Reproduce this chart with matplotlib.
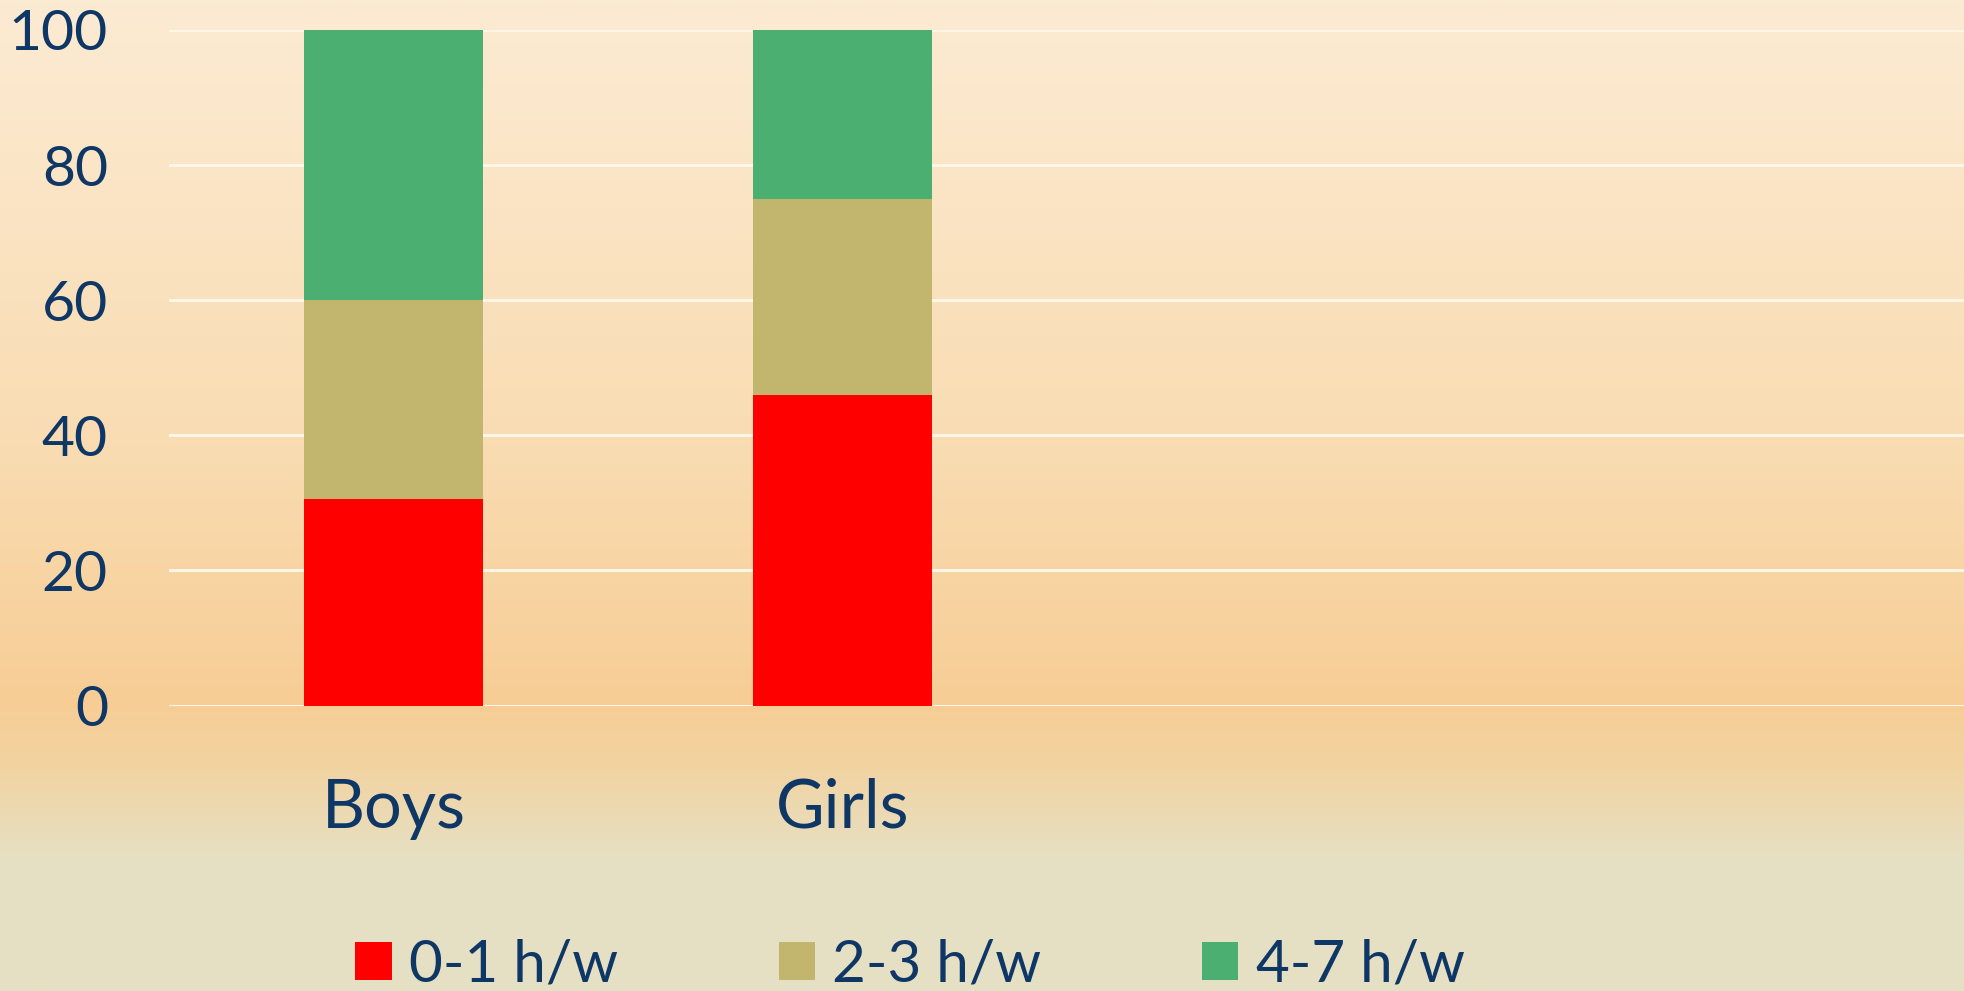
import matplotlib
matplotlib.use("Agg")
import matplotlib.pyplot as plt
import numpy as np
from matplotlib.colors import LinearSegmentedColormap

plt.rcParams['font.family'] = ['Lato', 'DejaVu Sans']

categories = ["Boys", "Girls", "", ""]
series_names = ["0-1 h/w", "2-3 h/w", "4-7 h/w"]
s01 = [30.6, 46, 0, 0]
s23 = [29.4, 29, 0, 0]
s47 = [40, 25, 0, 0]
colors = ["#FF0000", "#C2B56D", "#4CAF72"]
yticks = [0, 20, 40, 60, 80, 100]

W, H = 1965, 991
fig = plt.figure(figsize=(W / 100, H / 100), dpi=100)

# background gradient
bg = fig.add_axes([0, 0, 1, 1], zorder=-10)
stops = [(0.0, "#FCEBD3"), (0.45, "#F9DCB2"), (0.71, "#F7CD95"),
         (0.77, "#F2D3A0"), (0.87, "#E6E0C4"), (1.0, "#E5E0C5")]
cmap = LinearSegmentedColormap.from_list("bg", stops)
grad = np.linspace(0, 1, 512).reshape(-1, 1)
bg.imshow(grad, aspect="auto", cmap=cmap, extent=[0, 1, 1, 0])
bg.set_axis_off()

ax = fig.add_axes([169 / W, 285.5 / H, 1 - 169 / W, 675.5 / H])
ax.set_facecolor("none")
x = np.arange(len(categories))
bw = 0.4
b1 = ax.bar(x, s01, bw, color=colors[0], label=series_names[0], zorder=3)
b2 = ax.bar(x, s23, bw, bottom=s01, color=colors[1], label=series_names[1], zorder=3)
bottom3 = [a + b for a, b in zip(s01, s23)]
b3 = ax.bar(x, s47, bw, bottom=bottom3, color=colors[2], label=series_names[2], zorder=3)

ax.set_xlim(-0.5, len(categories) - 0.5)
ax.set_ylim(0, 100)
ax.set_yticks(yticks)
ax.set_yticklabels([str(v) for v in yticks])
ax.set_xticks(x)
ax.set_xticklabels(categories)
for s in ax.spines.values():
    s.set_visible(False)
ax.grid(axis="y", color="#FFF6E8", linewidth=2.2, zorder=1)
ax.set_axisbelow(True)
ax.tick_params(axis="y", length=0, pad=44, labelsize=41, labelcolor="#0E3766")
ax.tick_params(axis="x", length=0, pad=52, labelsize=48, labelcolor="#0E3766")

leg = fig.legend(handles=[b1, b2, b3], labels=series_names, ncol=3,
                 loc="center", bbox_to_anchor=(910 / W, 1 - 965 / H),
                 frameon=False, fontsize=42, labelcolor="#0E3766",
                 handlelength=0.62, handleheight=0.65, handletextpad=0.3,
                 columnspacing=2.75)

fig.savefig("out.png", dpi=100)
